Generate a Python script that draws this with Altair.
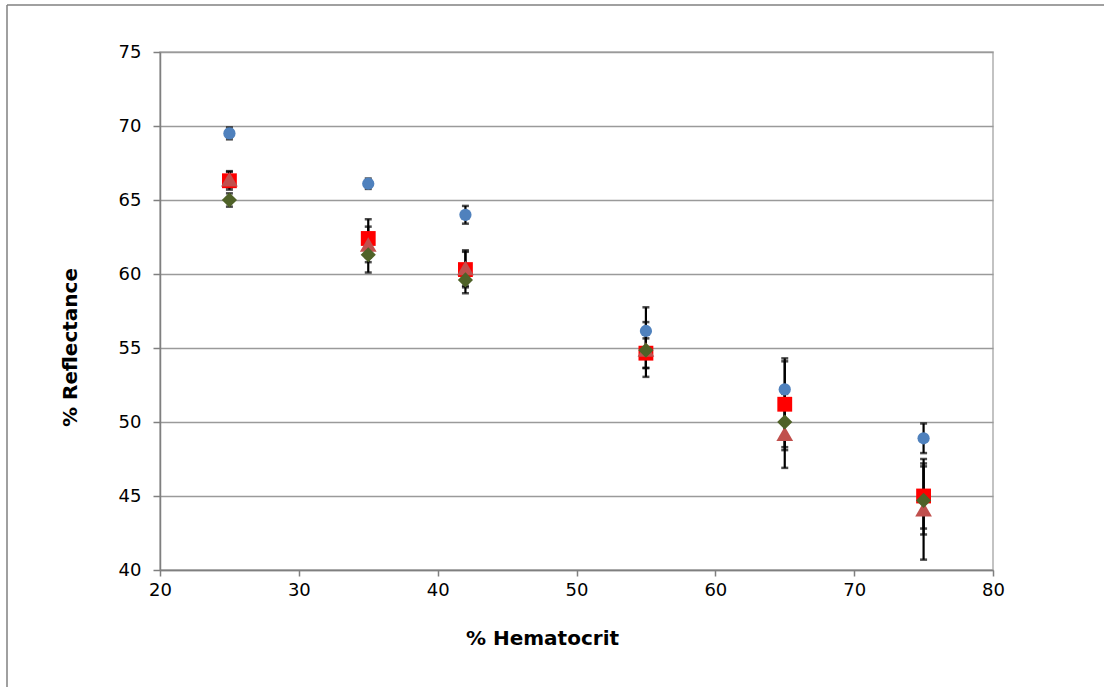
import altair as alt
import pandas as pd

# ---- data ----
hematocrit = [25, 35, 42, 55, 65, 75]

series_names = ["Series 1", "Series 2", "Series 3", "Series 4"]

blue_vals = [69.5, 66.1, 64.0, 56.15, 52.2, 48.9]
blue_err = [0.4, 0.35, 0.6, 1.6, 2.1, 1.0]

red_vals = [66.3, 62.4, 60.3, 54.65, 51.2, 45.0]
red_err = [0.6, 1.3, 1.2, 1.0, 2.9, 2.2]

tri_vals = [66.4, 62.0, 60.4, 54.9, 49.2, 44.1]
tri_err = [0.55, 1.2, 1.2, 1.85, 2.3, 3.4]

green_vals = [65.0, 61.3, 59.6, 54.85, 50.0, 44.7]
green_err = [0.45, 1.2, 0.9, 1.2, 1.9, 2.3]

x_ticks = [20, 30, 40, 50, 60, 70, 80]
y_ticks = [40, 45, 50, 55, 60, 65, 70, 75]

# ---- styling ----
series_styles = [
    ("Series 1", blue_vals, blue_err, "circle", "#4F81BD", 150),
    ("Series 2", red_vals, red_err, "square", "#FF0000", 220),
    ("Series 4", tri_vals, tri_err, "triangle-up", "#C0504D", 280),
    ("Series 3", green_vals, green_err, "diamond", "#4F6228", 230),
]

frames = []
for name, vals, errs, shape, color, size in series_styles:
    frames.append(pd.DataFrame({
        "series": name,
        "x": hematocrit,
        "y": vals,
        "lo": [v - e for v, e in zip(vals, errs)],
        "hi": [v + e for v, e in zip(vals, errs)],
    }))
df = pd.concat(frames, ignore_index=True)

FONT = "DejaVu Sans"

xscale = alt.Scale(domain=[20, 80], nice=False, zero=False)
yscale = alt.Scale(domain=[40, 75], nice=False, zero=False)

x_axis = alt.Axis(
    title="% Hematocrit", values=x_ticks, grid=False, labelFlush=False,
    domainColor="#7f7f7f", domainWidth=1.5, tickColor="#7f7f7f", tickWidth=1.5,
    tickSize=6, labelPadding=5, labelFontSize=18, labelFont=FONT, labelColor="#000000",
    titleFont=FONT, titleFontSize=20, titleFontWeight="bold", titleColor="#000000",
    titleX=382, titleY=58, titleBaseline="top",
)
y_axis = alt.Axis(
    title="% Reflectance", values=y_ticks, grid=True, gridColor="#9a9a9a", gridWidth=1.5,
    labelFlush=False,
    domainColor="#7f7f7f", domainWidth=1.5, tickColor="#7f7f7f", tickWidth=1.5,
    tickSize=7, labelPadding=12, labelFontSize=18, labelFont=FONT, labelColor="#000000",
    titleFont=FONT, titleFontSize=20, titleFontWeight="bold", titleColor="#000000",
    titleX=-90, titleY=295, titleBaseline="middle", titleAngle=-90,
)

base = alt.Chart(df)

err_rule = base.mark_rule(color="#000000", strokeWidth=2.2).encode(
    x=alt.X("x:Q", scale=xscale, axis=x_axis),
    y=alt.Y("lo:Q", scale=yscale, axis=y_axis),
    y2="hi:Q",
)
cap_lo = base.mark_tick(color="#000000", orient="horizontal", size=7, thickness=2.5).encode(
    x=alt.X("x:Q", scale=xscale), y=alt.Y("lo:Q", scale=yscale)
)
cap_hi = base.mark_tick(color="#000000", orient="horizontal", size=7, thickness=2.5).encode(
    x=alt.X("x:Q", scale=xscale), y=alt.Y("hi:Q", scale=yscale)
)

point_layers = []
for name, vals, errs, shape, color, size in series_styles:
    point_layers.append(
        base.transform_filter(alt.datum.series == name)
        .mark_point(shape=shape, filled=True, color=color, size=size, opacity=1, strokeWidth=0)
        .encode(x=alt.X("x:Q", scale=xscale), y=alt.Y("y:Q", scale=yscale))
    )

# outer frame lines (left and top edges of the picture)
frame_left = alt.Chart(pd.DataFrame({"a": [0]})).mark_rule(color="#808080", strokeWidth=1.5).encode(
    x=alt.value(-153), y=alt.value(-47), y2=alt.value(640)
)
frame_top = alt.Chart(pd.DataFrame({"a": [0]})).mark_rule(color="#808080", strokeWidth=1.5).encode(
    x=alt.value(-153), x2=alt.value(950), y=alt.value(-47)
)

chart = alt.layer(
    err_rule, cap_lo, cap_hi, *point_layers, frame_left, frame_top
).properties(
    width=833, height=518,
    autosize=alt.AutoSizeParams(type="none"),
    padding={"left": 160, "top": 52, "right": 111, "bottom": 117},
    background="#ffffff",
).configure_view(stroke="#b0b0b0", strokeWidth=1.5)

chart.save("out.html", embed_options={"renderer": "svg", "actions": False})
